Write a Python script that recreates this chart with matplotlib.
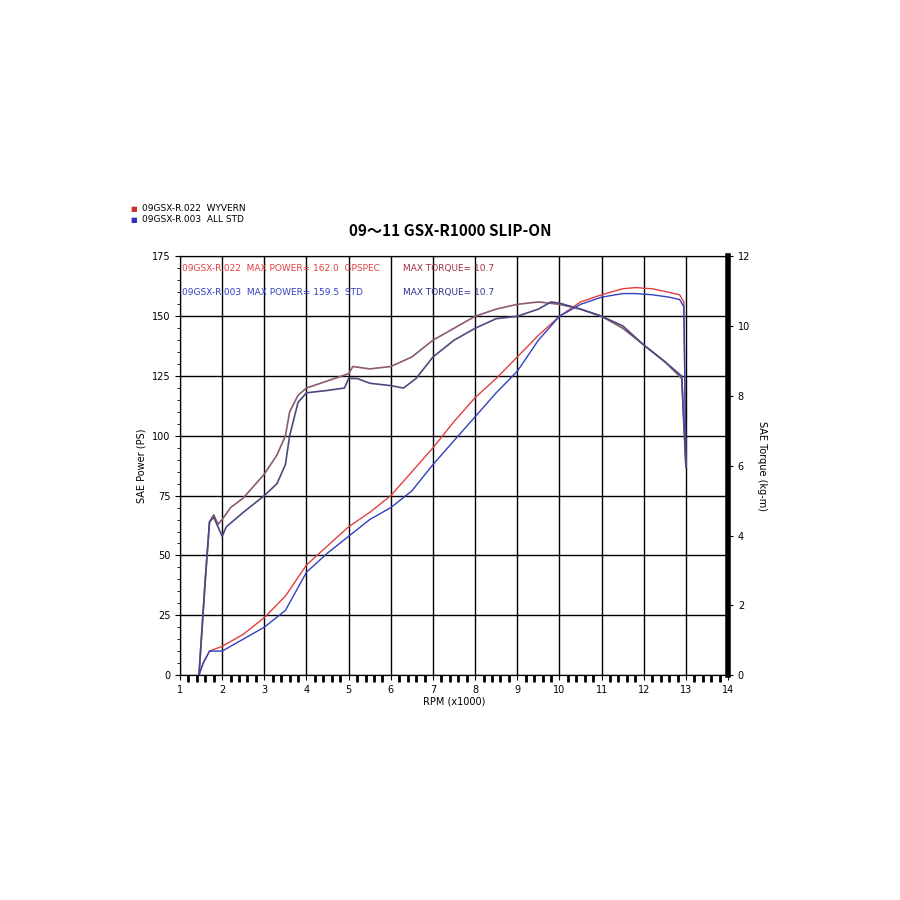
import matplotlib.pyplot as plt
import numpy as np

# power curves (PS, left axis)
rpm_pw_r = [1.45, 1.55, 1.7, 2.0, 2.5, 3.0, 3.5, 4.0, 4.5, 5.0, 5.5, 6.0, 6.5, 7.0, 7.5, 8.0, 8.5, 9.0, 9.5, 10.0, 10.5, 11.0, 11.5, 11.8, 12.2, 12.6, 12.85, 12.95, 13.0]
pw_r = [0, 5, 10, 12, 17, 24, 33, 46, 54, 62, 68, 75, 85, 95, 106, 116, 124, 133, 142, 150, 156, 159, 161.5, 162, 161.5, 160, 159, 156, 88]
rpm_pw_b = [1.45, 1.55, 1.7, 2.0, 2.5, 3.0, 3.5, 4.0, 4.5, 5.0, 5.5, 6.0, 6.5, 7.0, 7.5, 8.0, 8.5, 9.0, 9.5, 10.0, 10.5, 11.0, 11.5, 11.8, 12.2, 12.6, 12.85, 12.95, 13.0]
pw_b = [0, 5, 10, 10, 15, 20, 27, 43, 51, 58, 65, 70, 77, 88, 98, 108, 118, 127, 140, 150, 155, 158, 159.5, 159.5, 159, 158, 157, 154, 88]

# torque curves (read on PS scale, converted to kg-m)
rpm_tq_r = [1.45, 1.6, 1.7, 1.8, 1.9, 2.0, 2.2, 2.5, 3.0, 3.3, 3.5, 3.6, 3.8, 4.0, 4.5, 5.0, 5.1, 5.5, 6.0, 6.5, 7.0, 7.5, 8.0, 8.5, 9.0, 9.5, 10.0, 10.5, 11.0, 11.5, 12.0, 12.5, 12.9, 13.0]
tq_r = [0, 40, 64, 67, 63, 65, 70, 74, 84, 92, 100, 110, 117, 120, 123, 126, 129, 128, 129, 133, 140, 145, 150, 153, 155, 156, 155, 153, 150, 145, 138, 131, 124, 87]
rpm_tq_b = [1.45, 1.6, 1.7, 1.8, 2.0, 2.1, 2.5, 3.0, 3.3, 3.5, 3.6, 3.8, 4.0, 4.5, 4.9, 5.0, 5.2, 5.5, 6.0, 6.3, 6.6, 7.0, 7.5, 8.0, 8.5, 9.0, 9.5, 9.8, 10.0, 10.5, 11.0, 11.5, 12.0, 12.5, 12.9, 13.0]
tq_b = [0, 40, 64, 66, 58, 62, 68, 75, 80, 88, 100, 114, 118, 119, 120, 124, 124, 122, 121, 120, 124, 133, 140, 145, 149, 150, 153, 156, 155.5, 153, 150, 146, 138, 131, 125, 87]

tq_r_kg = np.array(tq_r) * 12 / 175
tq_b_kg = np.array(tq_b) * 12 / 175

fig = plt.figure(figsize=(9, 9), dpi=100)
ax = fig.add_axes([0.2, 0.25, 0.609, 0.465])
ax2 = ax.twinx()

ax.plot(rpm_pw_r, pw_r, color="#e04040", lw=1)
ax.plot(rpm_pw_b, pw_b, color="#3040c0", lw=1)
ax2.plot(rpm_tq_r, tq_r_kg, color="#8a5a70", lw=1.2)
ax2.plot(rpm_tq_b, tq_b_kg, color="#4a4a80", lw=1.2)

ax.set_xlim(1, 14)
ax.set_ylim(0, 175)
ax2.set_ylim(0, 12)
ax.set_xticks(range(1, 15))
ax.set_xticks(np.arange(1, 14.01, 0.2), minor=True)
ax.set_yticks(range(0, 176, 25))
ax.set_yticks(range(0, 176, 5), minor=True)
ax2.set_yticks(range(0, 13, 2))
ax.grid(True, color="black", lw=1)
ax.tick_params(labelsize=7)
ax2.tick_params(labelsize=7)
ax.tick_params(axis="x", which="minor", length=5, width=2)
ax.set_xlabel("RPM (x1000)", fontsize=7, labelpad=1)
ax.set_ylabel("SAE Power (PS)", fontsize=7)
ax2.set_ylabel("SAE Torque (kg-m)", fontsize=7, rotation=270, labelpad=12)
ax2.spines["right"].set_linewidth(4)

ax.text(1.05, 170, "09GSX-R.022  MAX POWER= 162.0  GPSPEC", color="#e04040", fontsize=6.5, va="center")
ax.text(1.05, 160, "09GSX-R.003  MAX POWER= 159.5  STD", color="#3040c0", fontsize=6.5, va="center")
ax.text(6.3, 170, "MAX TORQUE= 10.7", color="#a03040", fontsize=6.5, va="center")
ax.text(6.3, 160, "MAX TORQUE= 10.7", color="#303090", fontsize=6.5, va="center")

fig.text(0.5, 0.738, "09\u301c11 GSX-R1000 SLIP-ON", ha="center", fontsize=11, fontweight="bold",
         family=["Noto Sans CJK JP", "DejaVu Sans"])
fig.text(0.145, 0.768, "\u25a0", color="#d03030", fontsize=5, va="center")
fig.text(0.158, 0.768, "09GSX-R.022  WYVERN", fontsize=6.5, va="center")
fig.text(0.145, 0.756, "\u25a0", color="#3030c0", fontsize=5, va="center")
fig.text(0.158, 0.756, "09GSX-R.003  ALL STD", fontsize=6.5, va="center")

fig.savefig("out.png")
